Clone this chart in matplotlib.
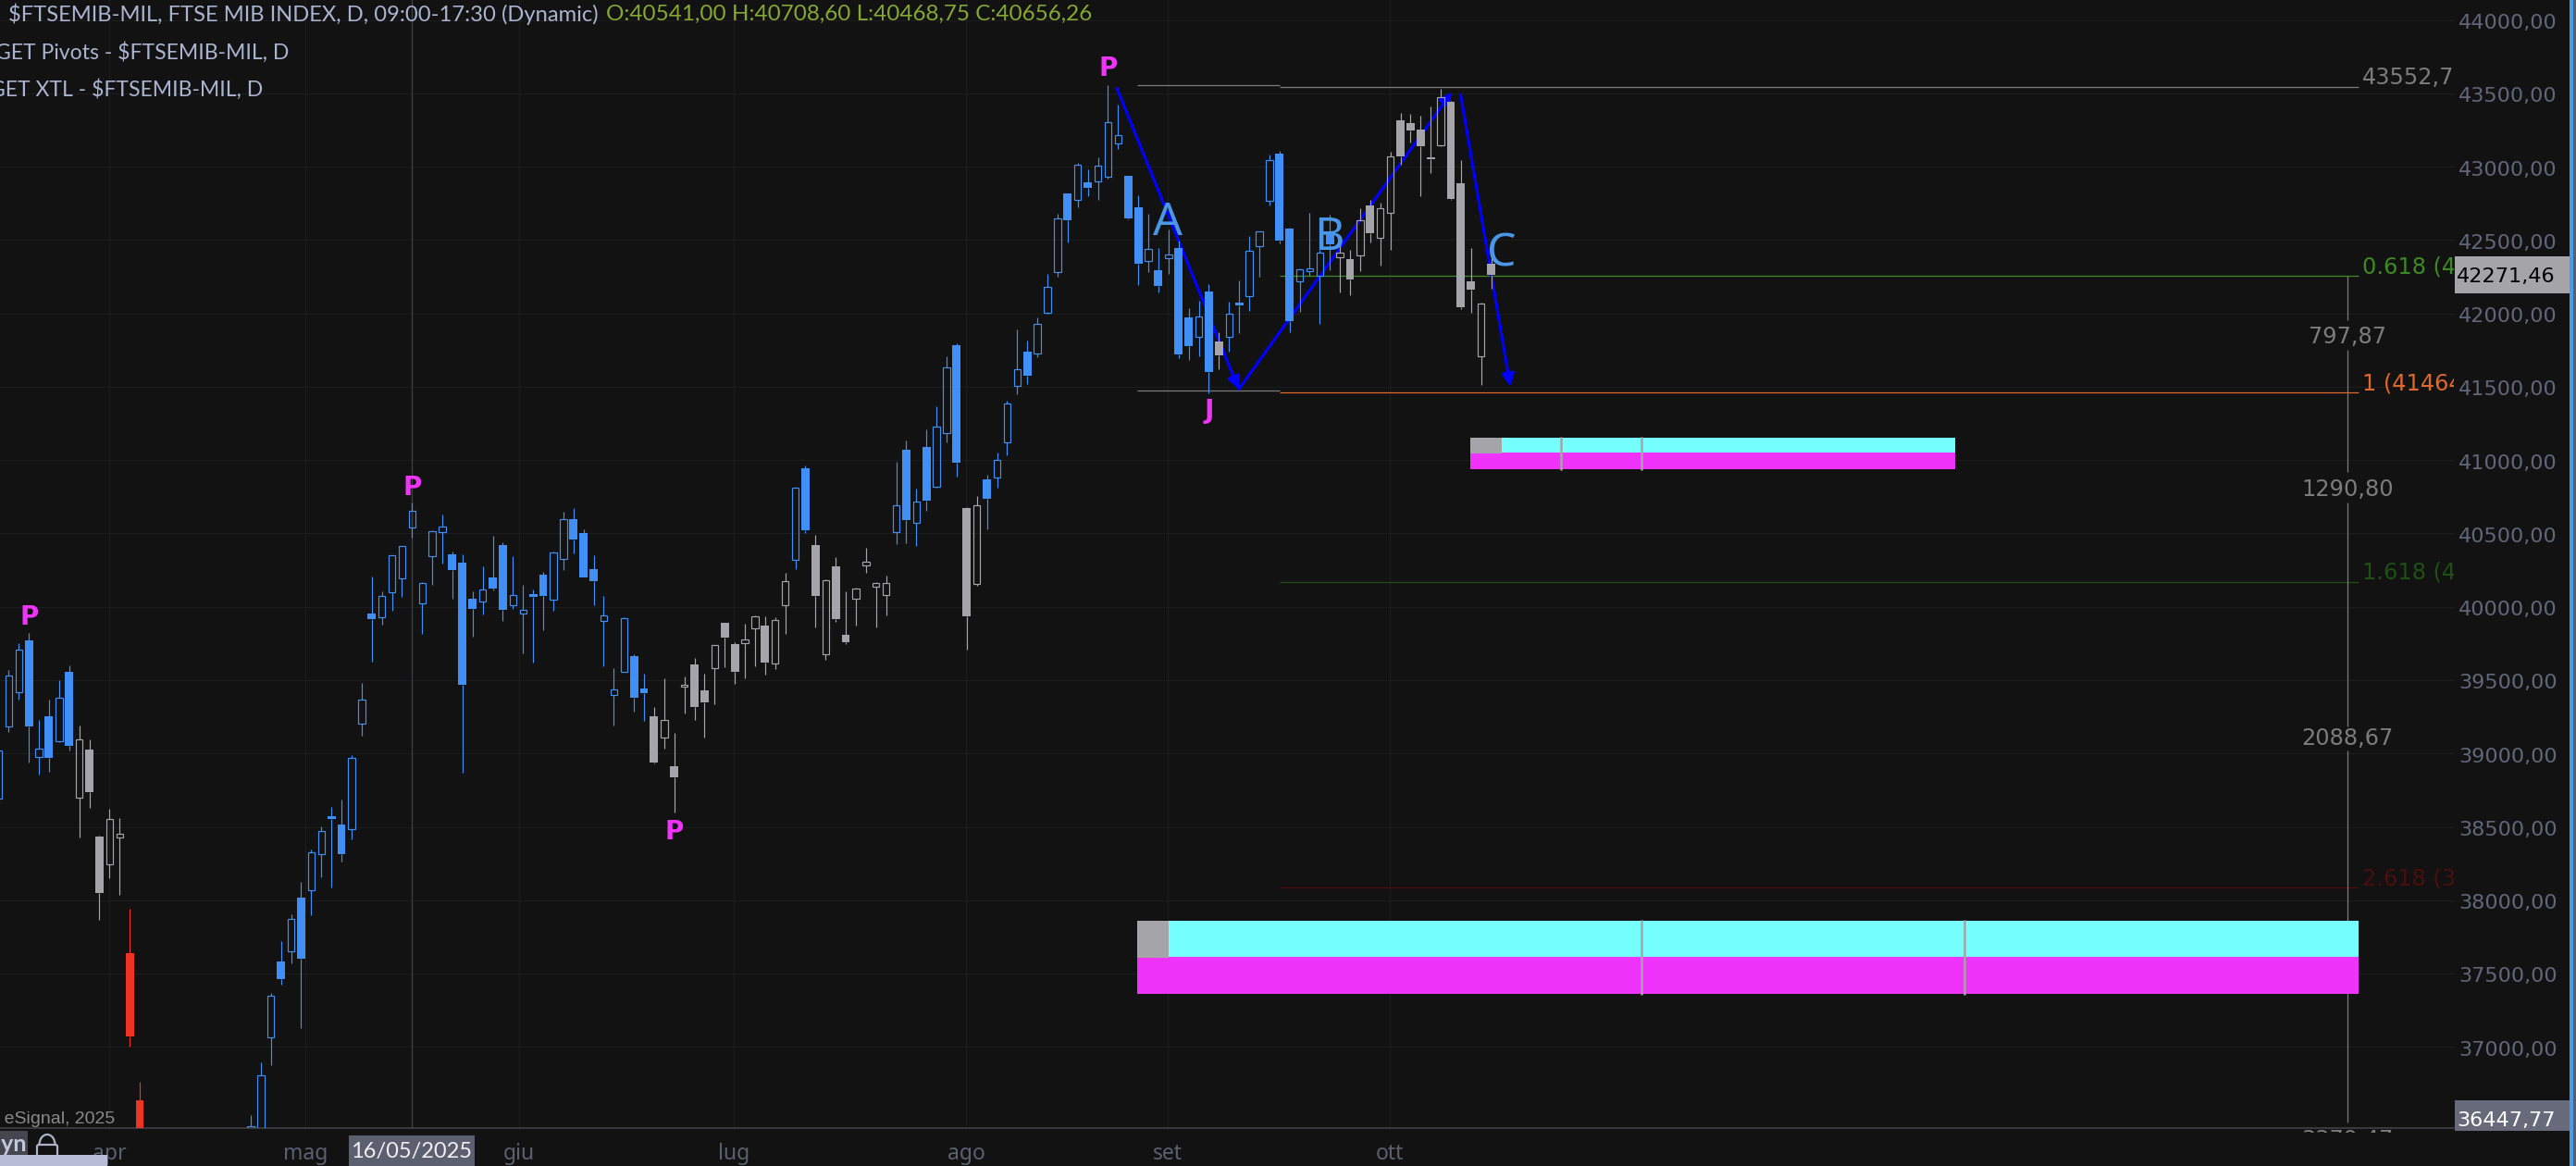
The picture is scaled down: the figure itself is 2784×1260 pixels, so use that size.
import numpy as np
import matplotlib
matplotlib.use("Agg")
import matplotlib.pyplot as plt
from matplotlib.patches import Rectangle, Arc, FancyBboxPatch
from matplotlib.transforms import Bbox, ScaledTranslation

# ============================================================
# DATA
# ============================================================

NA = np.nan

# one char per daily bar: b/g/r filled, B/G hollow, . off-screen
kinds = ("BBBbBbBbGg" "gGGrr....." ".....BBBbB" "bBBbbBBbBB" "BBBBBbbbBb"
         "bBBbbBBbbb" "BBBbbgGgGg" "gGggGGgGGB" "bgGggGGGGB" "bBbBBbgGbB"
         "BBbBBBbBbB" "BBbbBbBbbB" "bgBbBBBbbB" "BBbGgGgGGg" "gggGgggGg")

highs = [39058,39569,39752,39822,39229,39367,39500,39601,39191,39096,
         38440,38623,38560,37942,36762,NA,NA,NA,NA,NA,
         NA,NA,NA,NA,NA,36535,36894,37366,37721,37904,
         38124,38343,38501,38636,38686,38989,39481,40205,40106,40352,
         40415,40708.6,40169,40522,40629,40377,40358,40106,40276,40484,
         40440,40345,40150,40118,40238,40377,40648,40673,40528,40352,
         40074,39582,39929,39676,39544,39317,39512,39140,39525,39651,
         39544,39738,39891,39759,39885,39942,39935,39929,40232,40818,
         40964,40490,40188,40339,40106,40131,40402,40169,40213,40989,
         41134,40806,41210,41367,41708,41796,40680,40755,40900,41052,
         41405,41891,41815,41973,42269,42680,42818,43027,42982,43064,
         43557,43424,42938,42806,42680,42446,42572,42497,42036,42087,
         42200,41872,42080,42225,42528,42560,43083,43109,42585,42307,
         42686,42434,42673,42497,42434,42717,42774,42755,43102,43367,
         43361,43348,43411,43531,43449,43046,42446,42074,42453]

body_tops = [39018,39530,39706,39771,39031,39254,39378,39557,39094,39027,
             38434,38552,38451,37639,36636,NA,NA,NA,NA,NA,
             NA,NA,NA,NA,NA,36457,36804,37347,37582,37870,
             38017,38324,38470,38572,38516,38968,39365,39954,40072,40350,
             40413,40656.26,40160,40514,40545,40358,40301,40055,40116,40200,
             40421,40078,39977,40087,40219,40369,40596,40598,40503,40257,
             39940,39435,39921,39664,39443,39254,39227,38913,39466,39607,
             39430,39738,39891,39746,39776,39933,39872,39908,40173,40810,
             40945,40421,40179,40276,39809,40123,40306,40160,40160,40690,
             41071,40716,41090,41227,41630,41784,40673,40690,40869,40999,
             41384,41618,41740,41927,42179,42646,42818,43012,42894,43006,
             43302,43214,42938,42724,42438,42295,42400,42446,41973,41977,
             42150,41809,41996,42074,42425,42558,43044,43090,42579,42299,
             42305,42413,42541,42413,42370,42634,42736,42716,43069,43317,
             43298,43254,43064,43473,43443,42888,42219,42066,42339]

body_bots = [38690,39183,39416,39186,38974,38972,39085,39054,38700,38738,
             38051,38242,38425,37073,36345,NA,NA,NA,NA,NA,
             NA,NA,NA,NA,NA,36345,36345,37063,37464,37649,
             37601,38066,38312,38553,38316,38482,39201,39918,39927,40097,
             40192,40541,40022,40343,40507,40252,39470,39988,40034,40126,
             39981,40009,39952,40070,40076,40047,40325,40461,40202,40177,
             39902,39397,39555,39382,39413,38940,39107,38839,39454,39317,
             39348,39584,39790,39557,39754,39855,39620,39615,40013,40322,
             40524,40076,39675,39918,39760,40053,40280,40135,40078,40507,
             40593,40570,40726,40817,41182,40984,39937,40158,40738,40880,
             41119,41504,41577,41725,42006,42280,42637,42772,42858,42898,
             42930,43157,42650,42341,42356,42189,42375,41723,41779,41839,
             41603,41716,41839,42057,42116,42457,42766,42499,41950,42217,
             42287,42255,42471,42381,42234,42394,42549,42514,42684,43073,
             43249,43142,43054,43145,42781,42044,42162,41706,42263]

lows = [38661,39149,39369,38940,38858,38877,39079,39022,38429,38631,
        37868,38152,38038,37002,36251,NA,NA,NA,NA,NA,
        NA,NA,NA,NA,NA,36282,36251,36877,37426,37571,
        37128,37899,38158,38089,38265,38417,39123,39628,39880,39975,
        40070,40468.75,39817,40152,40297,40057,38871,39798,39950,40114,
        39906,39988,39685,39622,39843,39975,40253,40366,40200,40013,
        39596,39193,39554,39287,39224,38934,39035,38600,39275,39229,
        39109,39336,39588,39475,39512,39594,39538,39576,39817,40259,
        40505,39861,39641,39899,39748,39874,40234,39861,39943,40429,
        40435,40417,40656,40810,41123,40890,39710,40145,40530,40814,
        41035,41451,41521,41700,41998,42252,42486,42726,42801,42776,
        42921,43123,42644,42196,42284,42145,42271,41697,41685,41710,
        41458,41622,41741,41868,42019,42252,42738,42480,41874,42013,
        42259,41931,42297,42145,42126,42290,42486,42328,42435,43016,
        43167,42801,42959,43140,42775,42032,42006,41514,42171]

month_labels = ["apr", "mag", "giu", "lug", "ago", "set", "ott"]
month_bars = [11.0, 30.45, 51.64, 72.9, 95.95, 115.95, 137.97]
cross_bar = 41.0

price_ticks = list(range(37000, 44001, 500))
price_labels = [f"{p},00" for p in price_ticks]

# fib levels
top_old, low_old = 43555, 41473
top_level, fib_618, fib_1, fib_1618, fib_2618 = 43542.7, 42255, 41460, 40169, 38085
fib_bars = [112.9, 127.0, 234.0]
measure_bar = 232.9
measure_spans = [(42255, 41954), (41755, 40920), (40711, 39185), (39021, 36484)]
measure_vals = ["797,87", "1290,80", "2088,67"]
measure_prices = [41838, 40800, 39105]

# zigzag legs (bar, price)
leg_a = [(110.9, 43533), (122.97, 41483)]
leg_b = [(122.97, 41483), (144.1, 43510)]
leg_c = [(144.97, 43492), (149.9, 41502)]

# pivots and wave letters (bar, price, label)
pivots = [(3, 39926, "P"), (41, 40811, "P"), (67, 38468, "P"), (110, 43670, "P"), (120, 41338, "J")]
waves = [(115.9, 42615, "A"), (131.9, 42513, "B"), (149.0, 42404, "C")]

# time-projection strips: bars, gray end, upper, mid, lower, tick bars
strip_big = dict(x0=112.9, x1=234.0, xg=116.0, hi=37860, mid=37613, lo=37361, ticks=[162.9, 194.96])
strip_small = dict(x0=145.9, x1=194.0, xg=149.07, hi=41153, mid=41052, lo=40938, ticks=[154.96, 162.9])

# ============================================================
# STYLE
# ============================================================

BG = "#121212"
GRID = "#1d1d1f"
BLUE = "#3f8ff6"
GRAY = "#a5a4a8"
RED = "#ee3322"
MAGENTA = "#ef33fb"
CYAN = "#75ffff"
LABEL = "#63667a"
LINE_GRAY = "#7c7c7c"
COLORS = {"b": BLUE, "g": GRAY, "r": RED}
UI = ["Lato", "DejaVu Sans"]

W, H = 2784, 1260
PLOT_R, PLOT_B = 2652, 1219.3

fig = plt.figure(figsize=(W / 100, H / 100), dpi=100, facecolor=BG)
ax = fig.add_axes([0, 1 - PLOT_B / H, PLOT_R / W, PLOT_B / H], facecolor=BG)
ax.set_xlim(0.144, 243.45)
ax.set_ylim(36444.6, 44137)

for s in ["top", "left", "right"]:
    ax.spines[s].set_visible(False)
ax.spines["bottom"].set_color("#45454b")
ax.spines["bottom"].set_linewidth(1.1)

ax.yaxis.tick_right()
ax.set_yticks(price_ticks, price_labels)
ax.tick_params(axis="y", length=0, pad=3.6, labelsize=16.1, labelcolor=LABEL)
down = ScaledTranslation(0, -1 / 72, fig.dpi_scale_trans)
for t in ax.get_yticklabels():
    t.set_transform(t.get_transform() + down)
ax.set_xticks(month_bars, month_labels)
ax.tick_params(axis="x", length=0, pad=11, labelcolor="#5c5f70")
for t in ax.get_xticklabels():
    t.set_fontsize(16.5)
    t.set_fontweight("bold")
    t.set_family(["Noto Sans", "DejaVu Sans"])
ax.grid(True, color=GRID, lw=0.8, zorder=0)
ax.set_axisbelow(True)
ax.axvline(cross_bar, color="#3e3e44", lw=1.0, zorder=1)

# ============================================================
# FIB LINES
# ============================================================

ax.hlines([top_old, low_old], fib_bars[0], fib_bars[1], color=LINE_GRAY, lw=0.9, zorder=2)
ax.hlines(top_level, fib_bars[1], fib_bars[2], color=LINE_GRAY, lw=0.9, zorder=2)
ax.hlines(fib_618, fib_bars[1], fib_bars[2], color="#3d8a22", lw=0.9, zorder=2)
ax.hlines(fib_1, fib_bars[1], fib_bars[2], color="#e0682a", lw=0.9, zorder=2)
ax.hlines(fib_1618, fib_bars[1], fib_bars[2], color="#1f4f14", lw=0.9, zorder=2)
ax.hlines(fib_2618, fib_bars[1], fib_bars[2], color="#4a0e0e", lw=0.9, zorder=2)

for hi, lo in measure_spans:
    ax.vlines(measure_bar, lo, hi, color=LINE_GRAY, lw=0.9, zorder=2)
for val, p in zip(measure_vals, measure_prices):
    ax.text(measure_bar, p, val, color=LINE_GRAY, fontsize=17.3, ha="center", va="center", zorder=3)

lx = fib_bars[2] + 0.35
for txt, p, col in [("43552,7", 43608, LINE_GRAY), ("0.618 (42271,46)", 42318, "#3d8a22"),
                    ("1 (41464,59)", 41522, "#e0682a"), ("1.618 (40172,99)", 40233, "#1f4f14"),
                    ("2.618 (38084,12)", 38148, "#4a0e0e")]:
    ax.text(lx, p, txt, color=col, fontsize=17.3, ha="left", va="center", clip_on=True, zorder=3)

# ============================================================
# STRIPS
# ============================================================

for st in [strip_big, strip_small]:
    ax.add_patch(Rectangle((st["x0"], st["mid"]), st["x1"] - st["x0"], st["hi"] - st["mid"], fc=CYAN, ec="none", zorder=2))
    ax.add_patch(Rectangle((st["x0"], st["lo"]), st["x1"] - st["x0"], st["mid"] - st["lo"], fc=MAGENTA, ec="none", zorder=2))
    ax.add_patch(Rectangle((st["x0"], st["mid"] - 6), st["xg"] - st["x0"], st["hi"] - st["mid"] + 6, fc=GRAY, ec="none", zorder=2.1))
    ax.vlines(st["ticks"], st["lo"] - 8, st["hi"] + 8, color=GRAY, lw=1.8, zorder=2.2)

# ============================================================
# ZIGZAG
# ============================================================

for leg in [leg_a, leg_b, leg_c]:
    ax.annotate("", xy=leg[1], xytext=leg[0], zorder=2.5,
                arrowprops=dict(arrowstyle="-|>", color="#0000ff", lw=2.3, mutation_scale=20,
                                shrinkA=0, shrinkB=0))

# ============================================================
# CANDLES
# ============================================================

for i, k in enumerate(kinds):
    if k == ".":
        continue
    col = COLORS[k.lower()]
    hollow = k.isupper()
    ax.vlines(i, body_tops[i], highs[i], color=col, lw=0.85, zorder=3)
    ax.vlines(i, lows[i], body_bots[i], color=col, lw=0.85, zorder=3)
    h = body_tops[i] - body_bots[i]
    if hollow:
        ax.bar(i, h, bottom=body_bots[i], width=0.68, facecolor="none", edgecolor=col, linewidth=0.85, zorder=3)
    else:
        ax.bar(i, h, bottom=body_bots[i], width=0.82, color=col, linewidth=0, zorder=3)

for bx, p, s in pivots:
    ax.text(bx, p, s, color=MAGENTA, fontsize=20, fontweight="bold", ha="center", va="center", zorder=5)
for bx, p, s in waves:
    ax.text(bx, p, s, color="#4a97e8", fontsize=36, ha="center", va="center", zorder=5,
            family=["Noto Sans", "DejaVu Sans"])

# ============================================================
# CHROME (pixel overlay)
# ============================================================

px = fig.add_axes([0, 0, 1, 1], facecolor="none")
px.set_xlim(0, W)
px.set_ylim(H, 0)
px.axis("off")

px.add_patch(Rectangle((2777, 0), 4, H, fc="#4d9be6", ec="none"))
px.add_patch(Rectangle((2781, 0), 3, H, fc="#5a5d70", ec="none"))

px.text(9, 15, "$FTSEMIB-MIL, FTSE MIB INDEX, D, 09:00-17:30 (Dynamic)", color="#aab4d0",
        fontsize=17.1, family=UI, va="center", ha="left")
px.text(655, 15, "O:40541,00 H:40708,60 L:40468,75 C:40656,26", color="#86a832",
        fontsize=17.5, family=UI, va="center", ha="left")
px.text(312, 57, "GET Pivots - $FTSEMIB-MIL, D", color="#aab4d0", fontsize=16.6, family=UI, va="center", ha="right")
px.text(284, 97, "GET XTL - $FTSEMIB-MIL, D", color="#aab4d0", fontsize=16.6, family=UI, va="center", ha="right")
px.text(124, 1209, "© eSignal, 2025", color="#8a8a8a", fontsize=14, family=["Liberation Sans"], va="center", ha="right")

# price boxes
px.add_patch(Rectangle((2653, 277), 124, 40, fc=GRAY, ec="none"))
px.text(2762, 299, "42271,46", color="#000000", fontsize=16.1, va="center", ha="right")
px.add_patch(Rectangle((2653, 1189), 124, 33, fc="#666a7a", ec="none"))
px.text(2762, 1211, "36447,77", color="#ffffff", fontsize=16.1, va="center", ha="right")

# label hidden under the time axis
t = px.text(2537, 1232, "3379,47", color=LINE_GRAY, fontsize=17.3, va="center", ha="center")
t.set_clip_box(Bbox([[2400, H - 1224], [2650, H - 1220]]))
t.set_clip_on(True)

# date box under the crosshair
px.add_patch(Rectangle((377, 1227), 136, 33, fc="#5c5f6f", ec="none"))
px.text(445, 1245, "16/05/2025", color="#f0f0f2", fontsize=17, family=UI, va="center", ha="center")

# bottom-left buttons
px.add_patch(Rectangle((0, 1222), 30, 26, fc="#45464f", ec="none"))
px.text(29, 1236, "Dyn", color="#c4c8dc", fontsize=18, fontweight="bold", family=UI, va="center", ha="right")
px.add_patch(Arc((51, 1237), 17, 22, theta1=180, theta2=360, color="#aeb2c6", lw=1.6))
px.add_patch(FancyBboxPatch((40, 1237), 22, 14, boxstyle="round,pad=0,rounding_size=2", fc="none", ec="#aeb2c6", lw=1.6))
px.add_patch(Rectangle((0, 1248), 116, 12, fc="#b8bcd4", ec="none", zorder=5))

fig.savefig("out.png", dpi=100, facecolor=BG)
